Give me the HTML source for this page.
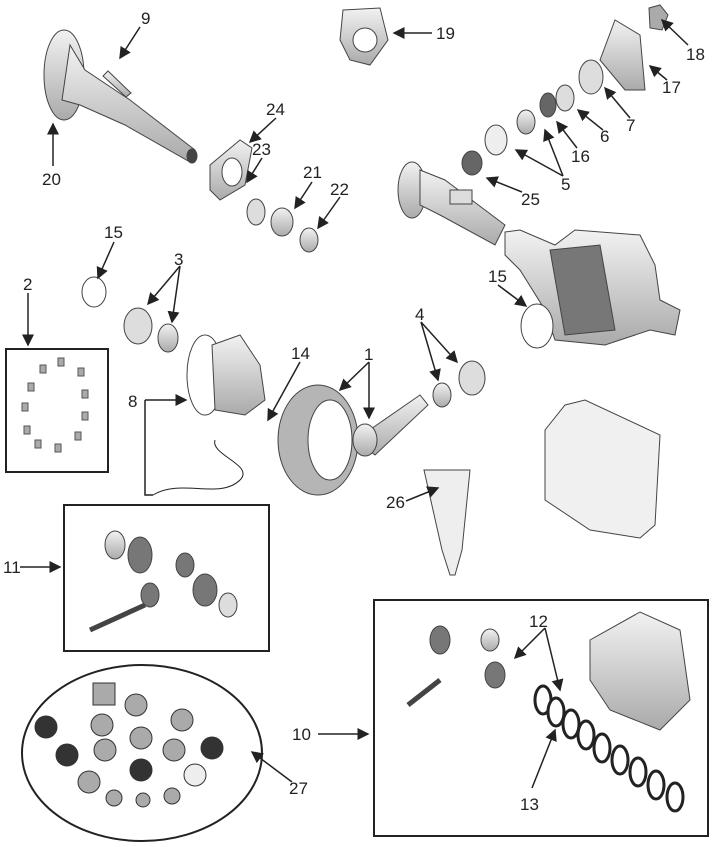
<!DOCTYPE html>
<html><head><meta charset="utf-8"><style>
html,body{margin:0;padding:0;background:#fff;}
svg{display:block;}
text{font-family:"Liberation Sans",sans-serif;font-size:17px;fill:#222;}
</style></head><body>
<svg width="712" height="847" viewBox="0 0 712 847" xmlns="http://www.w3.org/2000/svg">
<defs>
<marker id="a" markerWidth="8" markerHeight="8" refX="7" refY="4" orient="auto"><path d="M0,0 L8,4 L0,8 z" fill="#222"/></marker>
<linearGradient id="g" x1="0" y1="0" x2="0" y2="1"><stop offset="0" stop-color="#f2f2f2"/><stop offset="1" stop-color="#aaa"/></linearGradient>
</defs>
<g stroke="#444" stroke-width="1" fill="url(#g)">
<ellipse cx="64" cy="75" rx="20" ry="45"/>
<polygon points="70,45 85,70 130,100 195,150 190,162 125,125 80,105 62,100"/>
<ellipse cx="192" cy="156" rx="5" ry="7" fill="#444"/>
<polygon points="103,76 126,97 131,93 108,71"/>
<path d="M343,10 L380,8 L388,40 L370,65 L350,60 L340,40 Z"/>
<ellipse cx="365" cy="40" rx="12" ry="12" fill="#fff"/>
<polygon points="210,165 240,140 252,148 245,185 220,200 210,190"/>
<ellipse cx="232" cy="172" rx="10" ry="14" fill="#fff"/>
<ellipse cx="256" cy="212" rx="9" ry="13" fill="#ddd"/>
<ellipse cx="282" cy="222" rx="11" ry="14"/>
<ellipse cx="309" cy="240" rx="9" ry="12"/>
<ellipse cx="412" cy="190" rx="14" ry="28"/>
<polygon points="420,170 445,180 505,225 495,245 440,215 420,205"/>
<rect x="450" y="190" width="22" height="14" fill="#ddd"/>
<polygon points="505,232 520,230 555,245 575,230 640,235 655,265 660,300 680,310 675,335 650,330 605,345 555,340 545,310 520,270 505,255"/>
<polygon points="550,250 600,245 615,330 565,335" fill="#777"/>
<ellipse cx="472" cy="163" rx="10" ry="12" fill="#666"/>
<ellipse cx="496" cy="140" rx="11" ry="15" fill="#eee"/>
<ellipse cx="526" cy="122" rx="9" ry="12"/>
<ellipse cx="548" cy="105" rx="8" ry="12" fill="#666"/>
<ellipse cx="565" cy="98" rx="9" ry="13" fill="#ddd"/>
<ellipse cx="591" cy="77" rx="12" ry="17" fill="#ddd"/>
<polygon points="600,60 615,20 640,35 645,90 625,90"/>
<polygon points="649,8 660,5 668,15 662,30 650,28" fill="#aaa"/>
<ellipse cx="94" cy="292" rx="12" ry="15" fill="#fff"/>
<ellipse cx="537" cy="326" rx="16" ry="22" fill="#fff"/>
<ellipse cx="138" cy="326" rx="14" ry="18" fill="#ddd"/>
<ellipse cx="168" cy="338" rx="10" ry="14"/>
<ellipse cx="205" cy="375" rx="18" ry="40" fill="#fff"/>
<polygon points="212,345 240,335 260,365 265,400 245,415 215,410"/>
<ellipse cx="318" cy="440" rx="40" ry="55" fill="#b5b5b5"/>
<ellipse cx="330" cy="440" rx="22" ry="40" fill="#fff"/>
<polygon points="355,440 420,395 428,405 375,455"/>
<ellipse cx="365" cy="440" rx="12" ry="16"/>
<ellipse cx="442" cy="395" rx="9" ry="12"/>
<ellipse cx="472" cy="378" rx="13" ry="17" fill="#ddd"/>
<path d="M565,405 L585,400 L660,435 L655,525 L640,538 L590,530 L545,500 L545,430 Z" fill="#f0f0f0"/>
<polygon points="424,470 470,470 462,550 455,575 450,575 442,550" fill="#eee"/>
<polygon points="590,640 640,612 680,630 690,700 660,730 610,710 590,680"/>
<ellipse cx="440" cy="640" rx="10" ry="14" fill="#777"/>
<ellipse cx="490" cy="640" rx="9" ry="11"/>
<ellipse cx="495" cy="675" rx="10" ry="13" fill="#777"/>
<line x1="408" y1="705" x2="440" y2="680" stroke-width="5"/>
<ellipse cx="115" cy="545" rx="10" ry="14"/>
<ellipse cx="140" cy="555" rx="12" ry="18" fill="#777"/>
<ellipse cx="185" cy="565" rx="9" ry="12" fill="#777"/>
<ellipse cx="205" cy="590" rx="12" ry="16" fill="#777"/>
<ellipse cx="228" cy="605" rx="9" ry="12" fill="#ddd"/>
<ellipse cx="150" cy="595" rx="9" ry="12" fill="#777"/>
<line x1="90" y1="630" x2="145" y2="605" stroke-width="5"/>
</g>
<g stroke="#222" stroke-width="3" fill="#fff">
<ellipse cx="543" cy="700" rx="8" ry="14"/><ellipse cx="556" cy="712" rx="8" ry="14"/>
<ellipse cx="571" cy="724" rx="8" ry="14"/><ellipse cx="586" cy="735" rx="8" ry="14"/>
<ellipse cx="602" cy="748" rx="8" ry="14"/><ellipse cx="620" cy="760" rx="8" ry="14"/>
<ellipse cx="638" cy="772" rx="8" ry="14"/><ellipse cx="656" cy="785" rx="8" ry="14"/>
<ellipse cx="675" cy="797" rx="8" ry="14"/>
</g>
<g fill="#aaa" stroke="#555">
<rect x="58" y="358" width="6" height="8"/><rect x="78" y="368" width="6" height="8"/><rect x="40" y="365" width="6" height="8"/>
<rect x="28" y="383" width="6" height="8"/><rect x="82" y="390" width="6" height="8"/><rect x="22" y="403" width="6" height="8"/>
<rect x="82" y="412" width="6" height="8"/><rect x="24" y="426" width="6" height="8"/><rect x="75" y="432" width="6" height="8"/>
<rect x="35" y="440" width="6" height="8"/><rect x="55" y="444" width="6" height="8"/>
</g>
<g stroke="#333" fill="#aaa">
<rect x="93" y="683" width="22" height="22"/>
<ellipse cx="136" cy="705" rx="11" ry="11"/><ellipse cx="182" cy="720" rx="11" ry="11"/>
<ellipse cx="102" cy="725" rx="11" ry="11"/><ellipse cx="141" cy="738" rx="11" ry="11"/>
<ellipse cx="105" cy="750" rx="11" ry="11"/><ellipse cx="174" cy="750" rx="11" ry="11"/>
<ellipse cx="46" cy="727" rx="11" ry="11" fill="#333"/><ellipse cx="212" cy="748" rx="11" ry="11" fill="#333"/>
<ellipse cx="67" cy="755" rx="11" ry="11" fill="#333"/><ellipse cx="141" cy="770" rx="11" ry="11" fill="#333"/>
<ellipse cx="89" cy="782" rx="11" ry="11"/><ellipse cx="195" cy="775" rx="11" ry="11" fill="#eee"/>
<ellipse cx="114" cy="798" rx="8" ry="8"/><ellipse cx="172" cy="796" rx="8" ry="8"/><ellipse cx="143" cy="800" rx="7" ry="7"/>
</g>
<g fill="none" stroke="#222" stroke-width="2">
<rect x="6" y="349" width="102" height="123"/>
<rect x="64" y="505" width="205" height="146"/>
<rect x="374" y="600" width="334" height="236"/>
<ellipse cx="142" cy="753" rx="120" ry="88"/>
<path d="M153,495 C180,478 220,500 240,480 C255,465 210,455 215,440" stroke-width="1"/>
</g>
<g stroke="#222" stroke-width="1.5" fill="none" marker-end="url(#a)">
<line x1="140" y1="27" x2="120" y2="58"/>
<line x1="432" y1="33" x2="394" y2="33"/>
<line x1="688" y1="45" x2="662" y2="20"/>
<line x1="667" y1="80" x2="650" y2="66"/>
<line x1="630" y1="118" x2="605" y2="88"/>
<line x1="603" y1="130" x2="578" y2="110"/>
<line x1="577" y1="148" x2="557" y2="122"/>
<line x1="563" y1="176" x2="516" y2="150"/>
<line x1="563" y1="176" x2="545" y2="130"/>
<line x1="522" y1="192" x2="487" y2="178"/>
<line x1="276" y1="118" x2="250" y2="142"/>
<line x1="262" y1="158" x2="247" y2="182"/>
<line x1="312" y1="182" x2="295" y2="208"/>
<line x1="340" y1="197" x2="318" y2="228"/>
<line x1="53" y1="166" x2="53" y2="124"/>
<line x1="114" y1="242" x2="98" y2="278"/>
<line x1="180" y1="266" x2="148" y2="304"/>
<line x1="180" y1="266" x2="172" y2="322"/>
<line x1="28" y1="293" x2="28" y2="345"/>
<line x1="498" y1="285" x2="526" y2="306"/>
<line x1="421" y1="322" x2="438" y2="380"/>
<line x1="421" y1="322" x2="457" y2="362"/>
<line x1="300" y1="362" x2="268" y2="420"/>
<line x1="369" y1="362" x2="340" y2="390"/>
<line x1="369" y1="362" x2="369" y2="418"/>
<line x1="145" y1="400" x2="186" y2="400"/>
<line x1="406" y1="501" x2="438" y2="488"/>
<line x1="20" y1="567" x2="60" y2="567"/>
<line x1="545" y1="628" x2="515" y2="658"/>
<line x1="545" y1="628" x2="560" y2="690"/>
<line x1="318" y1="734" x2="368" y2="734"/>
<line x1="532" y1="788" x2="555" y2="730"/>
<line x1="292" y1="782" x2="252" y2="752"/>
</g>
<polyline points="145,400 145,495 153,495" fill="none" stroke="#222" stroke-width="1.5"/>
<g>
<text x="141" y="24">9</text><text x="436" y="39">19</text><text x="686" y="60">18</text>
<text x="662" y="93">17</text><text x="626" y="131">7</text><text x="600" y="142">6</text>
<text x="571" y="162">16</text><text x="561" y="190">5</text><text x="521" y="205">25</text>
<text x="266" y="115">24</text><text x="252" y="155">23</text><text x="303" y="178">21</text>
<text x="330" y="195">22</text><text x="42" y="185">20</text><text x="104" y="238">15</text>
<text x="174" y="265">3</text><text x="23" y="290">2</text><text x="488" y="282">15</text>
<text x="415" y="320">4</text><text x="291" y="359">14</text><text x="364" y="360">1</text>
<text x="128" y="407">8</text><text x="386" y="508">26</text><text x="3" y="573">11</text>
<text x="529" y="627">12</text><text x="292" y="740">10</text><text x="520" y="810">13</text>
<text x="289" y="794">27</text>
</g>
</svg>
</body></html>
